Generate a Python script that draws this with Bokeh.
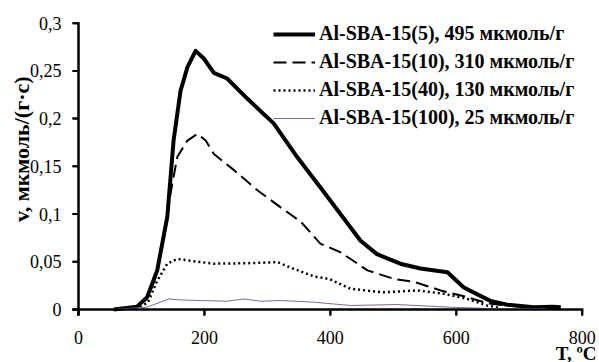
from bokeh.plotting import figure
from bokeh.models import FixedTicker, Legend, LegendItem, Title, BoxAnnotation
from bokeh.embed import file_html
from bokeh.resources import INLINE

# --- data (T in °C, v in мкмоль/(г·с)) ---
T_5 = [56, 93, 109, 125, 141, 151, 162, 173, 186, 199, 215, 236, 268, 310, 347, 384, 416, 448, 474, 511, 543, 586, 612, 654, 681, 723, 754, 766]
v_5 = [0, 0.003, 0.013, 0.041, 0.097, 0.177, 0.229, 0.254, 0.271, 0.263, 0.248, 0.242, 0.221, 0.195, 0.160, 0.128, 0.100, 0.072, 0.058, 0.048, 0.043, 0.039, 0.023, 0.009, 0.005, 0.0024, 0.003, 0.0024]

T_10 = [70, 93, 109, 125, 138, 146, 157, 173, 189, 202, 215, 247, 284, 321, 353, 384, 416, 459, 501, 533, 575, 617, 649, 681, 734]
v_10 = [0, 0.003, 0.011, 0.038, 0.088, 0.121, 0.160, 0.177, 0.184, 0.177, 0.163, 0.146, 0.125, 0.107, 0.092, 0.069, 0.060, 0.041, 0.032, 0.029, 0.020, 0.013, 0.0066, 0.004, 0.002]

T_40 = [90, 110, 125, 141, 157, 178, 215, 268, 316, 342, 374, 398, 432, 484, 538, 580, 617, 649, 670]
v_40 = [0.001, 0.007, 0.030, 0.048, 0.053, 0.051, 0.048, 0.0485, 0.0496, 0.0426, 0.0346, 0.032, 0.0217, 0.018, 0.020, 0.0165, 0.0112, 0.0042, 0.0016]

T_100 = [51, 109, 143, 162, 194, 236, 263, 289, 321, 373, 432, 506, 591, 697, 723, 742]
v_100 = [0, 0.0024, 0.011, 0.010, 0.0094, 0.0087, 0.011, 0.0087, 0.0094, 0.0077, 0.0042, 0.0052, 0.0024, 0, 0.001, 0.001]

series_names = [
    "Al-SBA-15(5), 495 мкмоль/г",
    "Al-SBA-15(10), 310 мкмоль/г",
    "Al-SBA-15(40), 130 мкмоль/г",
    "Al-SBA-15(100), 25 мкмоль/г",
]

x_ticks = [0, 200, 400, 600, 800]
x_tick_labels = ["0", "200", "400", "600", "800"]
y_ticks = [0, 0.05, 0.1, 0.15, 0.2, 0.25, 0.3]
y_tick_labels = ["0", "0,05", "0,1", "0,15", "0,2", "0,25", "0,3"]

y_title = "v, мкмоль/(г·с)"
x_title = "T, ºC"

FONT = "Liberation Serif"

X_MIN, X_MAX = x_ticks[0], x_ticks[-1]
Y_MIN, Y_MAX = y_ticks[0], y_ticks[-1]
TICK_DX = 9.5      # ~6 px in x data units
TICK_DY = 0.0063   # ~6 px in y data units
HW_X = 1.6         # half line width (~1 px) in x data units
HW_Y = 0.00105     # half line width (~1 px) in y data units

p = figure(
    width=599, height=362,
    min_border_left=69, min_border_right=3, min_border_top=20, min_border_bottom=46,
    x_range=(X_MIN - 14.3, 822.7), y_range=(Y_MIN - 0.00734, 0.3028),
    output_backend="svg", toolbar_location=None,
)
p.outline_line_color = None
p.grid.grid_line_color = None

# axis lines and tick marks as thin filled bars, built from the tick arrays
q_left = [X_MIN - HW_X, X_MIN - TICK_DX]
q_right = [X_MIN + HW_X, X_MAX + HW_X]
q_bottom = [Y_MIN - TICK_DY, Y_MIN - HW_Y]
q_top = [Y_MAX + HW_Y, Y_MIN + HW_Y]
for t in y_ticks:
    q_left.append(X_MIN - TICK_DX); q_right.append(X_MIN)
    q_bottom.append(t - HW_Y); q_top.append(t + HW_Y)
for t in x_ticks:
    q_left.append(t - HW_X); q_right.append(t + HW_X)
    q_bottom.append(Y_MIN - TICK_DY); q_top.append(Y_MIN)
p.quad(left=q_left, right=q_right, bottom=q_bottom, top=q_top,
       fill_color="black", line_color=None)
for l, r, b, t in zip(q_left, q_right, q_bottom, q_top):
    p.add_layout(BoxAnnotation(left=l, right=r, bottom=b, top=t,
                               fill_color="black", fill_alpha=1.0, line_color=None))

r1 = p.line(T_5, v_5, line_color="black", line_width=4, line_join="round")
r2 = p.line(T_10, v_10, line_color="black", line_width=2, line_dash="13 6")
r3 = p.line(T_40, v_40, line_color="black", line_width=2.5, line_dash="2 3")
r4 = p.line(T_100, v_100, line_color="#8064a2", line_width=1)

for ax in (p.xaxis, p.yaxis):
    ax.axis_line_color = None
    ax.major_tick_line_color = None
    ax.minor_tick_line_color = None
    ax.major_tick_in = 0
    ax.major_tick_out = 0
    ax.major_label_text_font = FONT
    ax.major_label_text_font_size = "18px"
    ax.major_label_text_color = "black"

p.xaxis.ticker = FixedTicker(ticks=x_ticks)
p.xaxis.major_label_overrides = {t: l for t, l in zip(x_ticks, x_tick_labels)}
p.xaxis.major_label_standoff = 14
p.yaxis.ticker = FixedTicker(ticks=y_ticks)
p.yaxis.major_label_overrides = {t: l for t, l in zip(y_ticks, y_tick_labels)}
p.yaxis.major_label_standoff = 8

legend = Legend(
    items=[LegendItem(label=n, renderers=[r]) for n, r in zip(series_names, [r1, r2, r3, r4])],
    location=(204, 187),
    label_text_font=FONT, label_text_font_style="bold", label_text_font_size="20px",
    label_text_color="black",
    glyph_width=42, glyph_height=16, label_height=16, label_standoff=4,
    spacing=5, padding=0, margin=0,
    border_line_color=None, background_fill_alpha=0,
)
p.add_layout(legend, "center")

p.add_layout(Title(text="\u00a0" * 7 + y_title, align="center", standoff=-14,
                   text_font=FONT, text_font_style="bold", text_font_size="22px",
                   text_color="black"), "left")
p.add_layout(Title(text=x_title, align="right", standoff=-12,
                   text_font=FONT, text_font_style="bold", text_font_size="19px",
                   text_color="black"), "below")

open("out.html", "w").write(file_html(p, INLINE))
